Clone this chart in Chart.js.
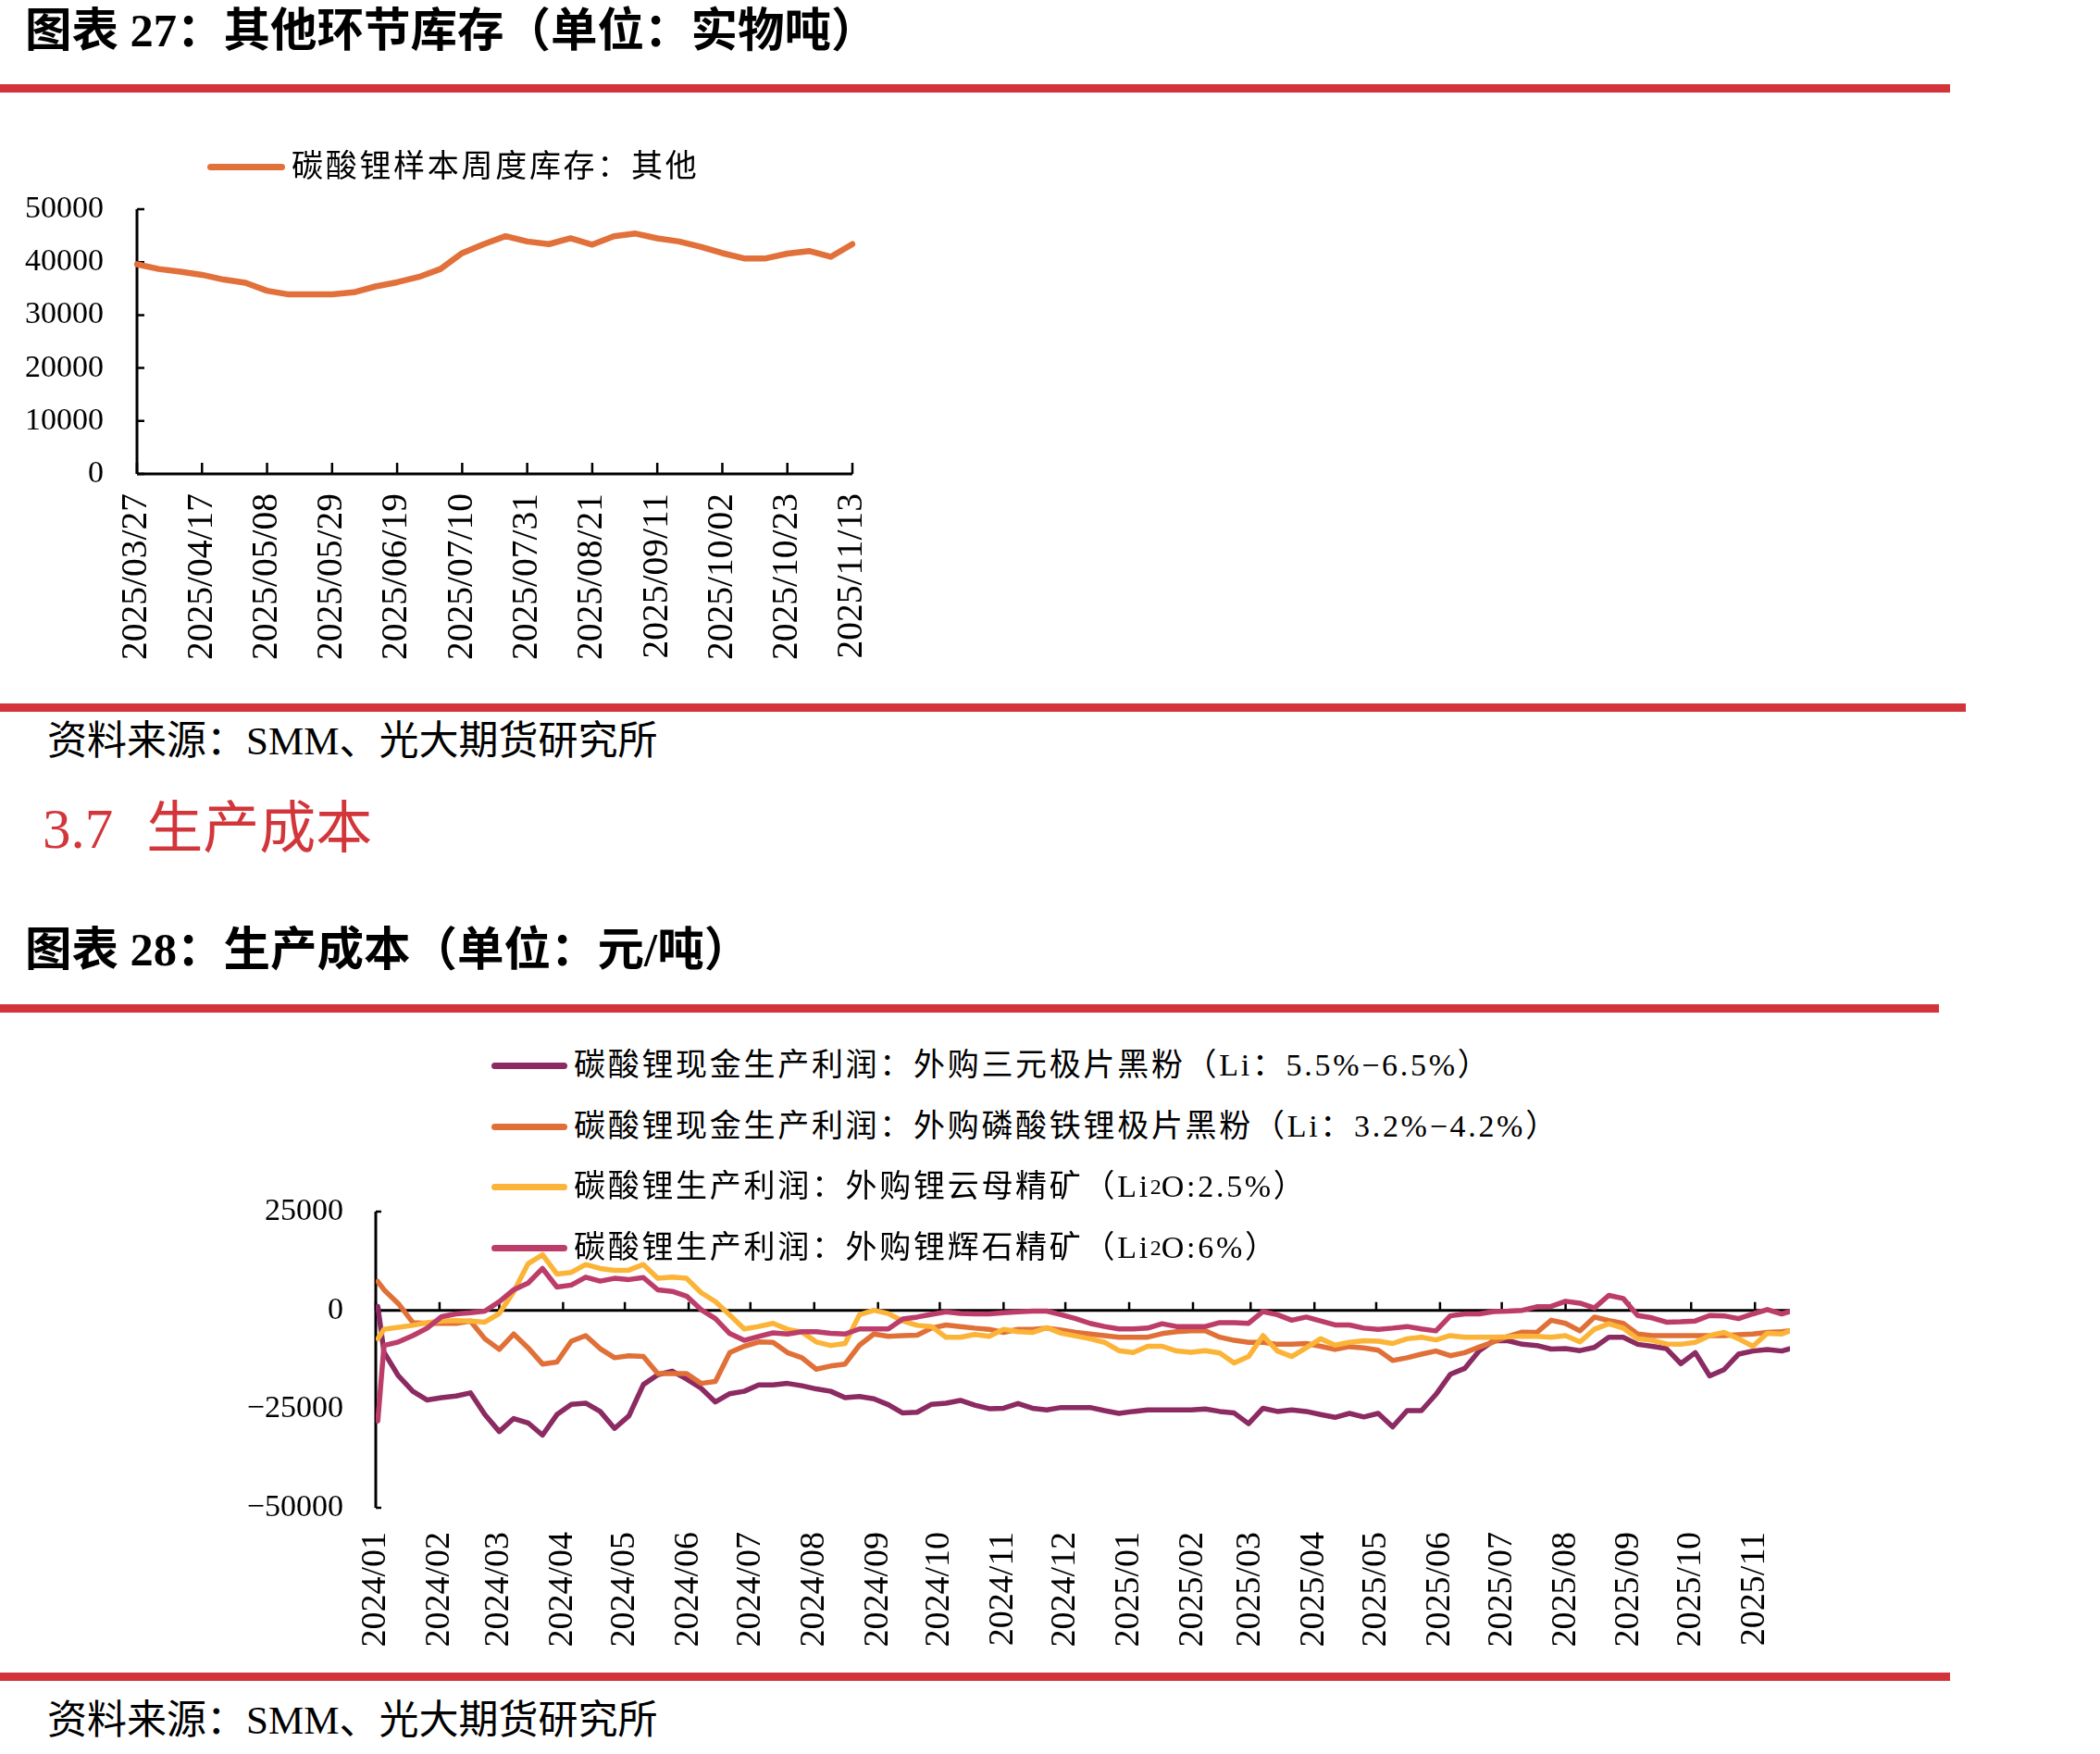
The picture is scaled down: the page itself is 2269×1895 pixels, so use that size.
<!DOCTYPE html>
<html lang="zh-CN">
<head>
<meta charset="utf-8">
<title>其他环节库存 / 生产成本</title>
<script src="https://cdn.jsdelivr.net/npm/chart.js@4.4.1/dist/chart.umd.min.js"></script>
<style>
    html, body { margin: 0; padding: 0; background: #fff; }
    body {
        position: relative;
        width: 2269px;
        height: 1895px;
        overflow: hidden;
        font-family: 'Liberation Serif', 'Noto Sans CJK SC', serif;
        color: #000;
    }
    .abs { position: absolute; white-space: nowrap; z-index: 2; }
    .title { font-size: 50.5px; font-weight: bold; line-height: 60px; }
    .rule { position: absolute; left: 0; height: 9px; background: #d2343a; }
    .source { font-size: 43px; line-height: 56px; }
    .section { font-size: 61px; line-height: 70px; color: #d2353a; }
    .section span { margin-left: 36px; }
    .legend { font-size: 34px; line-height: 46px; letter-spacing: 2.7px; display: flex; align-items: center; }
    .legend i { display: inline-block; width: 84px; height: 7px; border-radius: 4px; margin-right: 7px; }
    .legend sub { font-size: 24px; vertical-align: -7px; line-height: 0; letter-spacing: 0; }
    canvas { position: absolute; left: 0; z-index: 1; }
</style>
</head>
<body>

<div class="abs title" style="left: 27px; top: 3px;">图表 27：其他环节库存（单位：实物吨）</div>
<div class="rule" style="top: 91px; width: 2107px;"></div>

<div class="abs legend" style="left: 224px; top: 157px;"><i style="background: #e2703a;"></i>碳酸锂样本周度库存：其他</div>
<canvas id="stockChart" width="1000" height="560" style="top: 200px;"></canvas>

<div class="rule" style="top: 760px; width: 2124px;"></div>
<div class="abs source" style="left: 51px; top: 773px;">资料来源：SMM、光大期货研究所</div>

<div class="abs section" style="left: 46px; top: 861px;">3.7<span>生产成本</span></div>

<div class="abs title" style="left: 27px; top: 996px;">图表 28：生产成本（单位：元/吨）</div>
<div class="rule" style="top: 1085px; width: 2095px;"></div>

<div class="abs legend" style="left: 531px; top: 1128px;"><i style="background: #8b2b62; width: 82px;"></i>碳酸锂现金生产利润：外购三元极片黑粉（Li：5.5%−6.5%）</div>
<div class="abs legend" style="left: 531px; top: 1194px;"><i style="background: #e07038; width: 82px;"></i>碳酸锂现金生产利润：外购磷酸铁锂极片黑粉（Li：3.2%−4.2%）</div>
<div class="abs legend" style="left: 531px; top: 1259px;"><i style="background: #fbb437; width: 82px;"></i>碳酸锂生产利润：外购锂云母精矿（Li<sub>2</sub>O:2.5%）</div>
<div class="abs legend" style="left: 531px; top: 1325px;"><i style="background: #bc3d6a; width: 82px;"></i>碳酸锂生产利润：外购锂辉石精矿（Li<sub>2</sub>O:6%）</div>
<canvas id="costChart" width="2000" height="520" style="top: 1280px;"></canvas>

<div class="rule" style="top: 1807px; width: 2107px;"></div>
<div class="abs source" style="left: 51px; top: 1831px;">资料来源：SMM、光大期货研究所</div>

<script>
// 图表 27
const stockDates = [
    '2025/03/27', '2025/04/03', '2025/04/10', '2025/04/17', '2025/04/24',
    '2025/05/01', '2025/05/08', '2025/05/15', '2025/05/22', '2025/05/29',
    '2025/06/05', '2025/06/12', '2025/06/19', '2025/06/26', '2025/07/03',
    '2025/07/10', '2025/07/17', '2025/07/24', '2025/07/31', '2025/08/07',
    '2025/08/14', '2025/08/21', '2025/08/28', '2025/09/04', '2025/09/11',
    '2025/09/18', '2025/09/25', '2025/10/02', '2025/10/09', '2025/10/16',
    '2025/10/23', '2025/10/30', '2025/11/06', '2025/11/13',
];
const stockOther = [
    39600, 38700, 38200, 37600, 36700, 36100, 34600, 33900, 33900, 33900,
    34300, 35400, 36200, 37200, 38700, 41700, 43400, 44900, 43900, 43400,
    44500, 43300, 44900, 45400, 44500, 43900, 42900, 41700, 40700, 40700,
    41600, 42100, 41000, 43400,
];

// 图表 28
const profitDates = [
    '2024-01-02',
    '2024-01-05', '2024-01-12', '2024-01-19', '2024-01-26',
    '2024-02-02', '2024-02-09', '2024-02-16', '2024-02-23',
    '2024-03-01', '2024-03-08', '2024-03-15', '2024-03-22', '2024-03-29',
    '2024-04-05', '2024-04-12', '2024-04-19', '2024-04-26',
    '2024-05-03', '2024-05-10', '2024-05-17', '2024-05-24', '2024-05-31',
    '2024-06-07', '2024-06-14', '2024-06-21', '2024-06-28',
    '2024-07-05', '2024-07-12', '2024-07-19', '2024-07-26',
    '2024-08-02', '2024-08-09', '2024-08-16', '2024-08-23', '2024-08-30',
    '2024-09-06', '2024-09-13', '2024-09-20', '2024-09-27',
    '2024-10-04', '2024-10-11', '2024-10-18', '2024-10-25',
    '2024-11-01', '2024-11-08', '2024-11-15', '2024-11-22', '2024-11-29',
    '2024-12-06', '2024-12-13', '2024-12-20', '2024-12-27',
    '2025-01-03', '2025-01-10', '2025-01-17', '2025-01-24', '2025-01-31',
    '2025-02-07', '2025-02-14', '2025-02-21', '2025-02-28',
    '2025-03-07', '2025-03-14', '2025-03-21', '2025-03-28',
    '2025-04-04', '2025-04-11', '2025-04-18', '2025-04-25',
    '2025-05-02', '2025-05-09', '2025-05-16', '2025-05-23', '2025-05-30',
    '2025-06-06', '2025-06-13', '2025-06-20', '2025-06-27',
    '2025-07-04', '2025-07-11', '2025-07-18', '2025-07-25',
    '2025-08-01', '2025-08-08', '2025-08-15', '2025-08-22', '2025-08-29',
    '2025-09-05', '2025-09-12', '2025-09-19', '2025-09-26',
    '2025-10-03', '2025-10-10', '2025-10-17', '2025-10-24', '2025-10-31',
    '2025-11-07', '2025-11-14',
    '2025-11-18',
];
const monthLabels = [
    '2024/01', '2024/02', '2024/03', '2024/04', '2024/05', '2024/06',
    '2024/07', '2024/08', '2024/09', '2024/10', '2024/11', '2024/12',
    '2025/01', '2025/02', '2025/03', '2025/04', '2025/05', '2025/06',
    '2025/07', '2025/08', '2025/09', '2025/10', '2025/11',
];
// 外购三元极片黑粉
const ternaryProfit = [
    1000,
    -10600, -16600, -20500, -22700,
    -22100, -21700, -20900, -26400,
    -30700, -27400, -28500, -31600, -26400,
    -23800, -23500, -25600, -29900,
    -26700, -18800, -16300, -15400, -17400,
    -19700, -23200, -21100, -20500,
    -18900, -18900, -18500, -19100,
    -19900, -20500, -22100, -21800, -22400,
    -23900, -26000, -25800, -23800,
    -23500, -22800, -24000, -24900,
    -24800, -23600, -24800, -25200, -24600,
    -24600, -24600, -25400, -26100,
    -25600, -25200, -25200, -25200, -25200,
    -25000, -25600, -26000, -28700,
    -24800, -25600, -25200, -25600,
    -26400, -27100, -26100, -27000,
    -26100, -29500, -25400, -25400, -21300,
    -16200, -14700, -10300, -7700,
    -7700, -8600, -8900, -9800,
    -9700, -10200, -9400, -6800, -6800,
    -8600, -9100, -9700, -13500,
    -10700, -16600, -15000, -11100, -10300,
    -9900, -10300,
    -9700,
];
// 外购磷酸铁锂极片黑粉
const lfpProfit = [
    7300,
    5200, 1700, -3100, -3300,
    -3300, -3300, -2700, -7200,
    -9900, -6000, -9500, -13600, -13100,
    -7800, -6400, -9700, -12000,
    -11500, -11700, -16000, -16000, -16000,
    -18500, -18000, -10700, -9100,
    -8000, -8100, -10700, -12000,
    -14900, -14100, -13600, -8800, -6000,
    -6600, -6400, -6300, -4500,
    -3700, -4100, -4500, -4800,
    -5600, -4800, -4800, -4500, -5000,
    -5600, -6000, -6400, -6800,
    -6800, -6800, -5900, -5400, -5200,
    -5200, -6800, -7600, -8100,
    -8100, -8600, -8600, -8400,
    -9100, -9900, -9200, -9500,
    -10100, -12700, -12000, -11100, -10300,
    -11500, -10700, -9300, -8000,
    -6600, -5500, -5600, -2500,
    -3300, -5200, -1700, -2600, -3300,
    -6000, -6400, -6400, -6400,
    -6400, -6400, -6400, -6200, -6000,
    -5600, -5400,
    -5200,
];
// 外购锂云母精矿
const lepidoliteProfit = [
    -7200,
    -4800, -4300, -3800, -3100,
    -2700, -2600, -2700, -3000,
    -800, 4700, 11800, 14100, 9200,
    9600, 11600, 10600, 10100,
    10200, 11600, 8100, 8400, 8100,
    4500, 2200, -1200, -4700,
    -4100, -3300, -4800, -5500,
    -8000, -8900, -8400, -1100, 0,
    -800, -2700, -3800, -4100,
    -6800, -6800, -6100, -6600,
    -4800, -5400, -5600, -4400, -5800,
    -6500, -7200, -8100, -10200,
    -10700, -9100, -9100, -10300, -10600,
    -10200, -10800, -13300, -11700,
    -6400, -10300, -11700, -9500,
    -7200, -8800, -8100, -7700,
    -7800, -8400, -7200, -6800, -7500,
    -6400, -6800, -6800, -6800,
    -6700, -6500, -6600, -6800,
    -6400, -8000, -4800, -3400, -4500,
    -7200, -7600, -8500, -8600,
    -8100, -6400, -5600, -7200, -9100,
    -5800, -6000,
    -5200,
];
// 外购锂辉石精矿
const spodumeneProfit = [
    -28000,
    -8900, -8000, -6400, -4500,
    -1600, -900, -600, -200,
    2200, 5200, 6900, 10600, 5900,
    6400, 8400, 7400, 8100,
    7800, 8300, 5200, 4800, 3600,
    200, -2100, -5900, -7600,
    -6600, -5700, -6000, -5400,
    -5400, -5800, -6000, -4700, -4700,
    -4700, -2200, -1700, -1000,
    -400, -800, -900, -900,
    -600, -400, -200, -200, -1100,
    -2100, -3300, -4100, -4700,
    -4700, -4500, -3400, -4100, -4100,
    -4100, -3100, -3100, -3300,
    -300, -1100, -2500, -1700,
    -2700, -3700, -3700, -4500,
    -4800, -4500, -4100, -4700, -5200,
    -1400, -900, -900, -300,
    -200, 0, 900, 1000,
    2300, 1800, 600, 3800, 3000,
    -1300, -1900, -3000, -2900,
    -2700, -1300, -1400, -2100, -900,
    200, -900,
    -300,
];

(function () {
    const TICK_FONT = 'Liberation Serif';

    function dayIndex(text) {
        const parts = text.split(/[-\/]/).map(Number);
        const t = Date.UTC(parts[0], parts[1] - 1, parts[2] || 1);
        return Math.round((t - Date.UTC(2024, 0, 1)) / 86400000);
    }

    function formatTick(value) {
        return value < 0 ? '\u2212' + Math.abs(value) : String(value);
    }

    // fixed axis sizes so the plot box lands where the reference has it
    function pinWidth(width) {
        return function (scale) {
            scale.width = width;
            scale.paddingTop = 0;
            scale.paddingBottom = 0;
        };
    }

    function pinHeight(height) {
        return function (scale) {
            scale.height = height;
        };
    }

    // Excel style axes: black lines, tick marks pointing into the plot
    function makeAxisPlugin(settings) {
        return {
            id: 'excelAxes',
            beforeDatasetsDraw(chart) {
                const { ctx, chartArea } = chart;
                const x = chart.scales.x;
                const y = chart.scales.y;
                const baseY = y.getPixelForValue(settings.baseValue);

                ctx.save();
                ctx.strokeStyle = '#000';
                ctx.lineWidth = 3;

                ctx.beginPath();
                ctx.moveTo(chartArea.left, chartArea.top);
                ctx.lineTo(chartArea.left, chartArea.bottom);
                ctx.moveTo(chartArea.left, baseY);
                ctx.lineTo(chartArea.right, baseY);
                ctx.stroke();

                ctx.lineWidth = 2.5;
                ctx.beginPath();
                y.ticks.forEach((t) => {
                    const py = y.getPixelForValue(t.value);
                    ctx.moveTo(chartArea.left, py);
                    ctx.lineTo(chartArea.left + settings.yTick, py);
                });
                settings.xPositions(x).forEach((px) => {
                    ctx.moveTo(px, baseY);
                    ctx.lineTo(px, baseY - settings.xTick);
                });
                ctx.stroke();
                ctx.restore();
            },
        };
    }

    function createStockChart() {
        const canvas = document.getElementById('stockChart');

        new Chart(canvas.getContext('2d'), {
            type: 'line',
            data: {
                labels: stockDates,
                datasets: [
                    {
                        label: '碳酸锂样本周度库存：其他',
                        data: stockOther,
                        borderColor: '#e2703a',
                        borderWidth: 6.5,
                        pointRadius: 0,
                        tension: 0,
                        borderJoinStyle: 'round',
                        borderCapStyle: 'round',
                    },
                ],
            },
            options: {
                responsive: false,
                animation: false,
                devicePixelRatio: 1,
                layout: { padding: { top: 26, right: 79, left: 0, bottom: 0 } },
                plugins: {
                    legend: { display: false },
                    tooltip: { enabled: false },
                },
                scales: {
                    x: {
                        type: 'category',
                        offset: false,
                        grid: { display: false, drawTicks: false },
                        border: { display: false },
                        ticks: {
                            autoSkip: false,
                            maxRotation: 90,
                            minRotation: 90,
                            padding: 21,
                            color: '#000',
                            font: { family: TICK_FONT, size: 39.5 },
                            callback: function (value, index) {
                                return index % 3 === 0 ? stockDates[index] : '';
                            },
                        },
                        afterFit: pinHeight(248),
                    },
                    y: {
                        min: 0,
                        max: 50000,
                        grid: { display: false, drawTicks: false },
                        border: { display: false },
                        ticks: {
                            stepSize: 10000,
                            padding: 36,
                            color: '#000',
                            font: { family: TICK_FONT, size: 34 },
                            callback: formatTick,
                        },
                        afterFit: pinWidth(148),
                    },
                },
            },
            plugins: [
                makeAxisPlugin({
                    baseValue: 0,
                    yTick: 8,
                    xTick: 12,
                    xPositions: (x) =>
                        stockDates
                            .map((d, i) => i)
                            .filter((i) => i % 3 === 0)
                            .map((i) => x.getPixelForValue(i)),
                }),
            ],
        });
    }

    function toPoints(values) {
        return profitDates.map((d, i) => ({ x: dayIndex(d), y: values[i] }));
    }

    function createCostChart() {
        const canvas = document.getElementById('costChart');

        const series = [
            { label: '碳酸锂现金生产利润：外购三元极片黑粉（Li：5.5%−6.5%）', values: ternaryProfit, color: '#8b2b62', order: 3 },
            { label: '碳酸锂现金生产利润：外购磷酸铁锂极片黑粉（Li：3.2%−4.2%）', values: lfpProfit, color: '#e07038', order: 2 },
            { label: '碳酸锂生产利润：外购锂云母精矿（Li2O:2.5%）', values: lepidoliteProfit, color: '#fbb437', order: 1 },
            { label: '碳酸锂生产利润：外购锂辉石精矿（Li2O:6%）', values: spodumeneProfit, color: '#bc3d6a', order: 0 },
        ];

        new Chart(canvas.getContext('2d'), {
            type: 'line',
            data: {
                datasets: series.map((s) => ({
                    label: s.label,
                    data: toPoints(s.values),
                    borderColor: s.color,
                    borderWidth: 5.5,
                    pointRadius: 0,
                    tension: 0,
                    order: s.order,
                    borderJoinStyle: 'round',
                    borderCapStyle: 'round',
                })),
            },
            options: {
                responsive: false,
                animation: false,
                devicePixelRatio: 1,
                layout: { padding: { top: 29, right: 66, left: 0, bottom: 0 } },
                plugins: {
                    legend: { display: false },
                    tooltip: { enabled: false },
                },
                scales: {
                    x: {
                        type: 'linear',
                        min: 0,
                        max: dayIndex(profitDates[profitDates.length - 1]),
                        grid: { display: false, drawTicks: false },
                        border: { display: false },
                        afterBuildTicks: function (scale) {
                            scale.ticks = monthLabels.map((m) => ({ value: dayIndex(m) }));
                        },
                        ticks: {
                            autoSkip: false,
                            maxRotation: 90,
                            minRotation: 90,
                            padding: 26,
                            color: '#000',
                            font: { family: TICK_FONT, size: 38 },
                            callback: function (value, index) {
                                return monthLabels[index];
                            },
                        },
                        afterFit: pinHeight(171),
                    },
                    y: {
                        min: -50000,
                        max: 25000,
                        grid: { display: false, drawTicks: false },
                        border: { display: false },
                        ticks: {
                            stepSize: 25000,
                            padding: 35,
                            color: '#000',
                            font: { family: TICK_FONT, size: 34 },
                            callback: formatTick,
                        },
                        afterFit: pinWidth(406),
                    },
                },
            },
            plugins: [
                makeAxisPlugin({
                    baseValue: 0,
                    yTick: 6,
                    xTick: 9,
                    xPositions: (x) => x.ticks.map((t) => x.getPixelForValue(t.value)),
                }),
            ],
        });
    }

    function init() {
        if (typeof Chart === 'undefined') {
            console.warn('Chart.js not found.');
            return;
        }
        createStockChart();
        createCostChart();
    }

    if (document.readyState === 'loading') {
        document.addEventListener('DOMContentLoaded', init);
    } else {
        init();
    }
})();
</script>
</body>
</html>
